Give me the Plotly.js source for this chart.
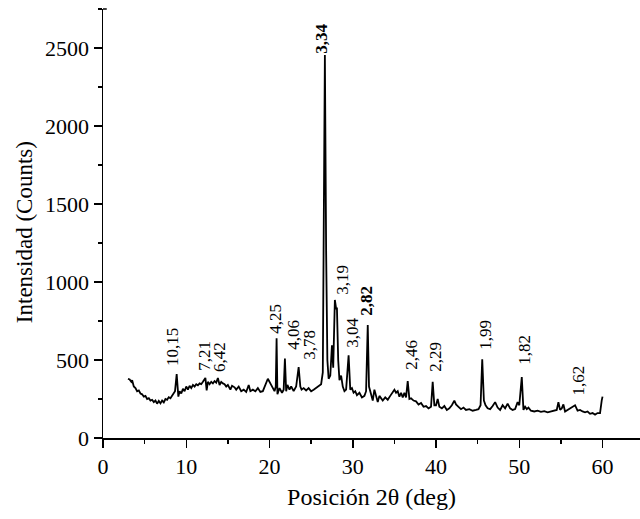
<!DOCTYPE html>
<html>
<head>
<meta charset="utf-8">
<script src="https://cdn.plot.ly/plotly-3.0.1.min.js"></script>
<style>html,body{margin:0;padding:0;background:#fff}#chart{width:640px;height:519px}</style>
</head>
<body>
<div id="chart"></div>
<script>
// 2θ positions (deg)
const twoTheta = [3.0,3.2,3.4,3.5,3.7,3.9,4.1,4.3,4.5,4.7,4.9,5.1,5.3,5.5,5.7,5.9,6.1,6.3,6.5,6.7,6.9,7.1,7.3,7.5,7.7,7.9,8.1,8.3,8.5,8.65,8.85,8.95,9.05,9.2,9.4,9.6,9.8,10.0,10.2,10.4,10.6,10.8,11.0,11.2,11.4,11.6,11.8,12.0,12.2,12.3,12.45,12.6,12.8,13.0,13.2,13.4,13.6,13.8,14.0,14.2,14.4,14.6,14.8,15.0,15.3,15.5,15.8,16.0,16.3,16.6,16.9,17.2,17.5,17.7,18.0,18.3,18.6,18.9,19.2,19.5,19.8,20.1,20.4,20.6,20.75,20.85,20.95,21.2,21.5,21.7,21.85,22.0,22.15,22.4,22.6,22.9,23.2,23.5,23.7,23.85,24.1,24.4,24.7,25.0,25.3,25.6,25.9,26.2,26.4,26.55,26.65,26.8,26.95,27.1,27.3,27.5,27.65,27.85,28.0,28.1,28.25,28.4,28.6,28.8,29.0,29.2,29.5,29.7,29.9,30.1,30.3,30.5,30.8,31.1,31.4,31.6,31.8,31.95,32.15,32.4,32.6,32.8,33.0,33.2,33.4,33.6,33.9,34.2,34.5,34.8,35.0,35.2,35.4,35.6,35.8,36.0,36.2,36.4,36.6,36.8,37.0,37.3,37.6,37.9,38.2,38.5,38.8,39.1,39.4,39.6,39.8,40.0,40.2,40.4,40.7,41.0,41.3,41.6,41.9,42.2,42.4,42.7,43.0,43.3,43.6,44.0,44.4,44.8,45.1,45.35,45.55,45.75,45.95,46.2,46.5,46.8,47.1,47.4,47.7,48.0,48.3,48.6,48.9,49.2,49.5,49.8,50.0,50.3,50.5,50.7,50.9,51.1,51.4,51.8,52.2,52.6,53.0,53.4,53.8,54.2,54.5,54.7,54.9,55.1,55.3,55.5,55.8,56.1,56.4,56.7,57.0,57.3,57.6,57.9,58.2,58.5,58.8,59.1,59.4,59.7,59.9,60.0];
// Intensity (counts)
const counts = [380,375,360,370,330,320,300,305,285,280,265,270,250,255,240,245,230,240,220,238,222,240,228,250,245,262,255,275,290,300,410,290,265,300,285,315,300,330,310,335,320,340,330,345,338,350,345,360,375,385,305,360,345,360,350,365,355,385,340,360,350,345,330,340,310,335,325,310,330,300,310,295,340,300,310,300,320,295,300,340,380,350,320,300,330,640,280,320,290,310,510,300,340,310,330,300,330,455,330,310,320,305,320,300,310,320,330,345,420,1500,2455,1200,500,380,400,595,450,885,830,830,500,370,400,330,300,310,530,310,320,290,300,275,290,260,270,300,725,330,280,240,310,260,230,270,250,240,260,245,270,290,310,290,300,265,290,260,290,260,365,250,255,240,235,215,225,200,205,190,200,360,210,210,250,200,190,205,180,190,210,240,215,200,185,195,180,185,175,180,185,210,505,240,210,190,185,205,230,195,180,210,190,220,190,180,185,230,210,390,180,200,185,195,175,170,175,168,172,165,170,175,180,230,180,190,215,170,180,195,205,210,175,180,170,165,170,155,160,150,160,160,240,265];
// d-spacing labels
const peakLabels = ['10,15','7,21','6,42','4,25','4,06','3,78','3,34','3,19','3,04','2,82','2,46','2,29','1,99','1,82','1,62'];
const boldLabels = ['3,34','2,82'];
// label anchor positions (x deg, y counts) - layout only
const labelPos = [[8.4,449],[12.24,417],[13.92,410],[20.76,654],[22.8,551],[24.72,487],[26.28,2449],[28.8,904],[29.88,564],[31.56,769],[36.96,423],[39.84,410],[45.84,551],[50.52,455],[57.0,256]];

const serif = 'Liberation Serif, Times New Roman, serif';
const annotations = peakLabels.map((t,i)=>({
  x: labelPos[i][0], y: labelPos[i][1], xref:'x', yref:'y',
  text: boldLabels.includes(t) ? '<b>'+t+'</b>' : t,
  showarrow:false, textangle:-90, xanchor:'center', yanchor:'bottom',
  font:{family:serif, size:17, color:'#000'}
}));
annotations.push({x:-0.147, y:0.48, xref:'paper', yref:'paper', text:'Intensidad (Counts)',
  showarrow:false, textangle:-90, xanchor:'center', yanchor:'middle',
  font:{family:serif, size:23, color:'#000'}});

const trace = {x: twoTheta, y: counts, type:'scatter', mode:'lines',
  line:{color:'#000', width:1.8}, hoverinfo:'skip'};

const layout = {
  width:640, height:519,
  margin:{l:103, r:0, t:9, b:81},
  paper_bgcolor:'#fff', plot_bgcolor:'#fff',
  showlegend:false,
  font:{family:serif, color:'#000', size:22},
  xaxis:{range:[0,64.5], showgrid:false, zeroline:false, showline:true, linecolor:'#000', linewidth:1.5,
    ticks:'outside', ticklen:8, tickwidth:1.5, tickcolor:'#000', dtick:10, tick0:0,
    tickfont:{family:serif, size:22}, minor:{dtick:5, ticks:'outside', ticklen:4, tickwidth:1.5, tickcolor:'#000'},
    title:{text:'Posición 2θ (deg)', font:{family:serif, size:24}, standoff:10}},
  yaxis:{range:[0,2750], showgrid:false, zeroline:false, showline:true, linecolor:'#000', linewidth:1.5,
    ticks:'outside', ticklen:8, tickwidth:1.5, tickcolor:'#000', dtick:500, tick0:0,
    tickfont:{family:serif, size:22}, minor:{dtick:250, ticks:'outside', ticklen:4, tickwidth:1.5, tickcolor:'#000'}},
  annotations: annotations,
  shapes:[{type:'line', xref:'paper', yref:'paper', x0:0, x1:0.007, y0:1, y1:1, line:{color:'#000', width:1.5}}]
};
Plotly.newPlot('chart',[trace],layout,{displayModeBar:false, staticPlot:true});
</script>
</body>
</html>
